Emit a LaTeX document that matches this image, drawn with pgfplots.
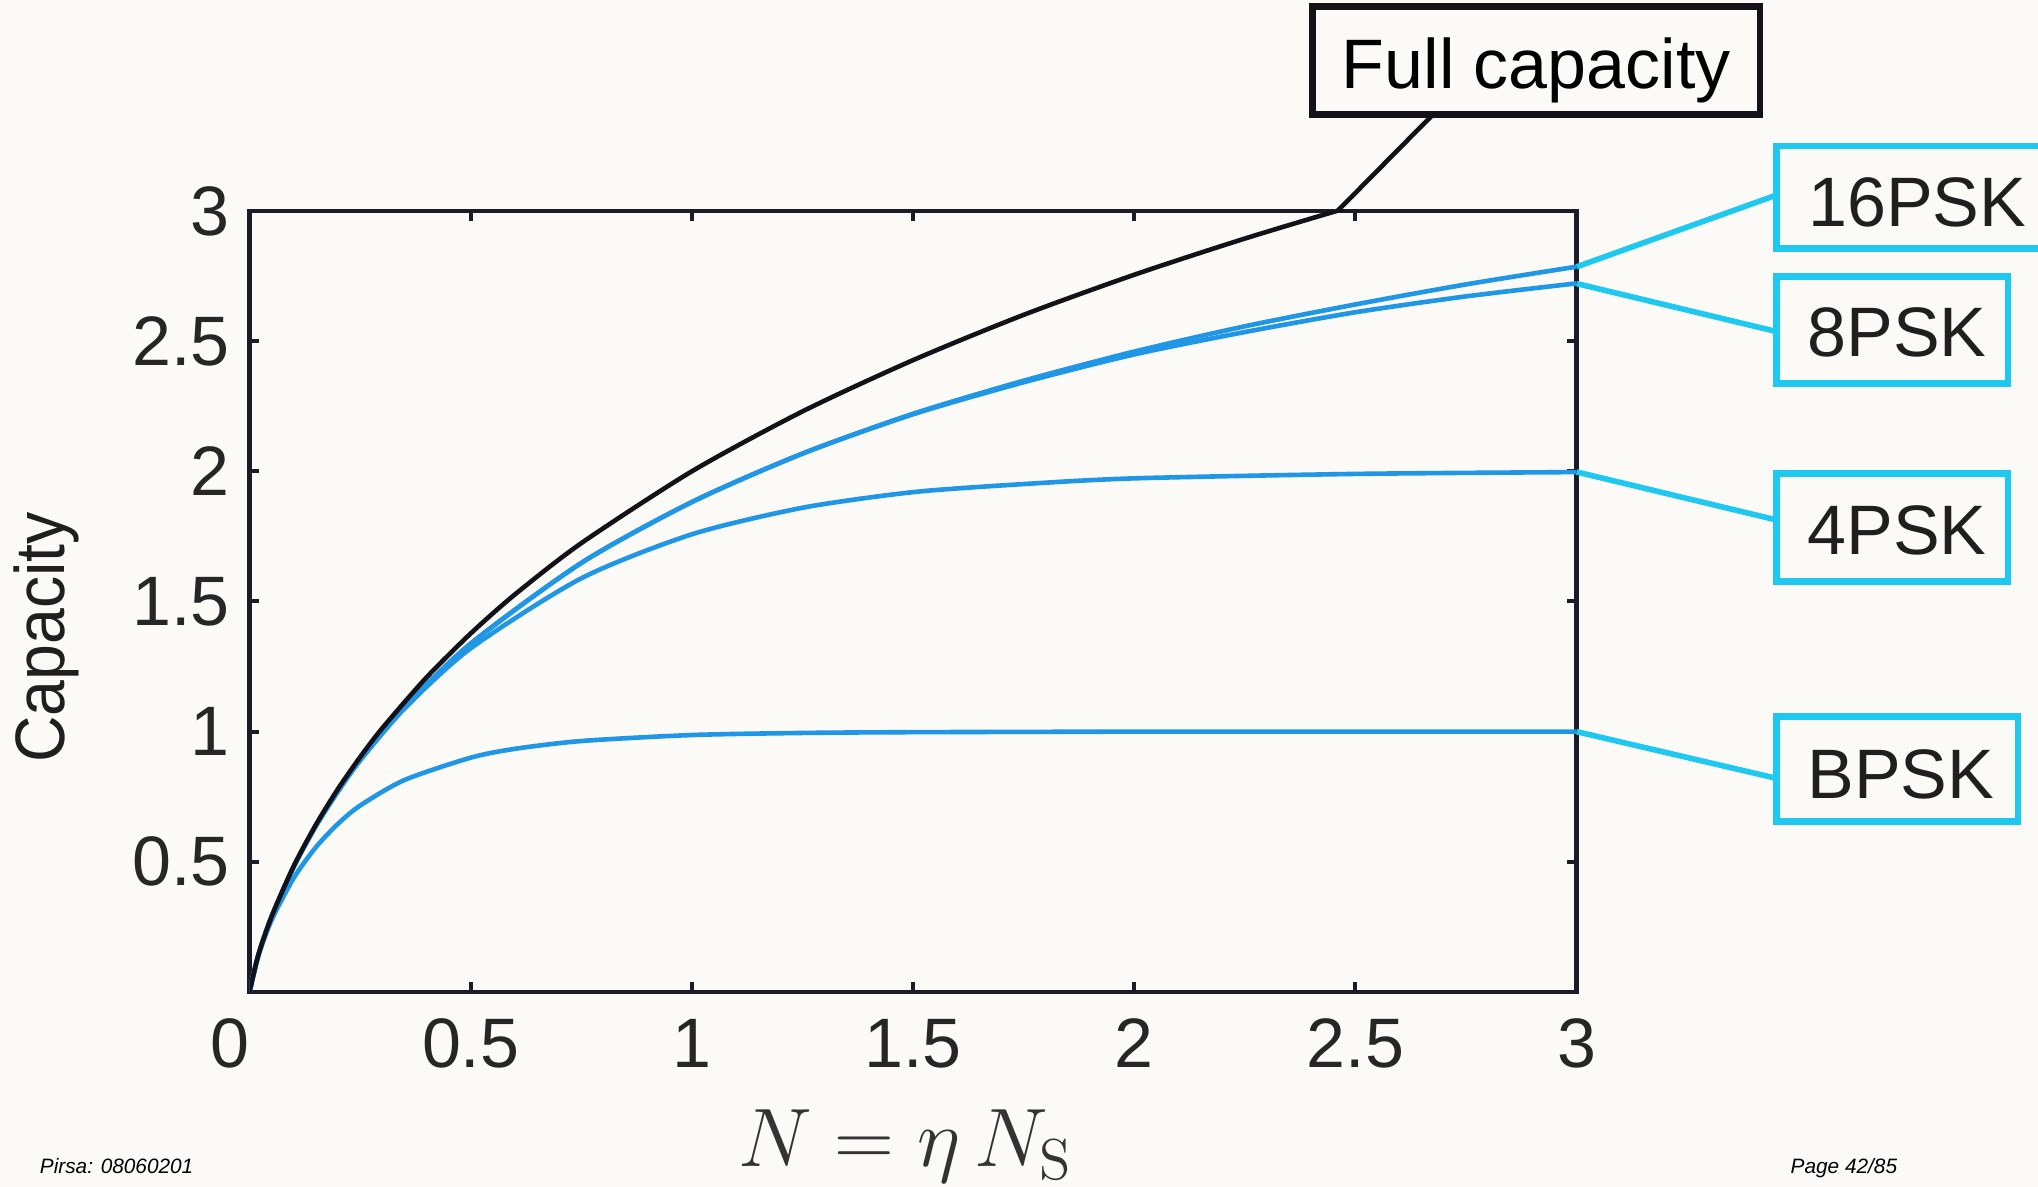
\documentclass[border=0pt]{standalone}
\usepackage[no-math]{fontspec}
\setmainfont{Liberation Sans}
\usepackage{pgfplots}
\pgfplotsset{compat=1.18}
\definecolor{bg}{RGB}{251,250,246}
\definecolor{axcol}{RGB}{28,28,40}
\definecolor{curveblue}{RGB}{32,150,230}
\definecolor{callcyan}{RGB}{30,200,238}
\definecolor{curveblack}{RGB}{18,18,24}
\newcommand{\lab}{\fontsize{17.5}{21}\selectfont}
\begin{document}
\begin{tikzpicture}
\path[use as bounding box, fill=bg] (-62.375pt,-48.75pt) rectangle (447.125pt,248pt);
\begin{axis}[
  at={(0pt,0pt)}, anchor=south west,
  scale only axis, width=331.775pt, height=195.25pt,
  xmin=0, xmax=3, ymin=0, ymax=3,
  xtick={0,0.5,1,1.5,2,2.5,3}, ytick={0.5,1,1.5,2,2.5,3},
  xticklabels={\makebox[0pt][r]{0},0.5,1,1.5,2,2.5,3},
  yticklabels={0.5,1,1.5,2,2.5,3},
  tick align=inside, major tick length=2.4pt,
  axis line style={line width=1.1pt, color=axcol},
  every tick/.style={line width=1pt, color=axcol},
  tick label style={font=\lab, text=black!85},
  xticklabel style={yshift=-3.2pt},
  yticklabel style={xshift=-1.4pt},
  axis background/.style={fill=bg},
  every axis plot/.append style={line width=1.15pt, smooth, tension=0.45},
]
\addplot[curveblue] coordinates {(0,0) (0.02,0.139) (0.05,0.276) (0.1,0.438) (0.15,0.556) (0.2,0.646) (0.25,0.716) (0.35,0.814) (0.5,0.900) (0.6,0.934) (0.75,0.964) (1,0.987) (1.25,0.995) (1.5,0.998) (2,1.000) (2.5,1.000) (3,1.000)};
\addplot[curveblue] coordinates {(0,0) (0.02,0.1419) (0.05,0.2894) (0.1,0.4813) (0.15,0.6376) (0.2,0.770) (0.25,0.889) (0.35,1.088) (0.5,1.320) (0.75,1.589) (1,1.758) (1.25,1.860) (1.5,1.920) (1.75,1.951) (2,1.973) (2.5,1.990) (3,1.997)};
\addplot[curveblue] coordinates {(0,0) (0.02,0.1419) (0.05,0.2895) (0.1,0.4814) (0.15,0.6380) (0.2,0.772) (0.25,0.891) (0.35,1.093) (0.5,1.338) (0.75,1.648) (1,1.882) (1.25,2.068) (1.5,2.219) (1.75,2.342) (2,2.449) (2.25,2.535) (2.5,2.611) (2.75,2.672) (3,2.722)};
\addplot[curveblue] coordinates {(0,0) (0.02,0.1419) (0.05,0.2895) (0.1,0.4814) (0.15,0.6380) (0.2,0.772) (0.25,0.891) (0.35,1.093) (0.5,1.338) (0.75,1.648) (1,1.882) (1.25,2.068) (1.5,2.221) (1.75,2.348) (2,2.460) (2.25,2.557) (2.5,2.641) (2.75,2.718) (3,2.786)};
\addplot[curveblack] coordinates {(0,0) (0.02,0.142) (0.05,0.290) (0.1,0.4834) (0.15,0.6424) (0.2,0.780) (0.25,0.902) (0.3,1.013) (0.4,1.208) (0.5,1.377) (0.6,1.527) (0.75,1.724) (1,2.000) (1.25,2.230) (1.5,2.427) (1.75,2.601) (2,2.755) (2.25,2.894) (2.5,3.021) (2.75,3.138) (3,3.245)};
\end{axis}
% callouts
\draw[curveblack, line width=1.15pt] (272pt,195.25pt) -- (295.9pt,219.4pt);
\draw[curveblack, line width=1.7pt] (265.8pt,219.4pt) rectangle (377.6pt,246.4pt);
\node[anchor=base, inner sep=0pt, font=\lab] at (321.7pt,225.9pt) {Full capacity};
\begin{scope}[callcyan, line width=1.4pt]
\draw (331.8pt,181.3pt) -- (381.8pt,199.25pt);
\draw (331.8pt,177.1pt) -- (381.8pt,165.1pt);
\draw (331.8pt,130.0pt) -- (381.8pt,118.0pt);
\draw (331.8pt,65.08pt) -- (381.8pt,53.4pt);
\end{scope}
\begin{scope}[callcyan, line width=1.7pt]
\draw (381.8pt,185.9pt) rectangle (470pt,211.5pt);
\draw (381.8pt,152.2pt) rectangle (439.6pt,178.8pt);
\draw (381.8pt,102.6pt) rectangle (439.6pt,129.7pt);
\draw (381.8pt,42.6pt) rectangle (442.1pt,68.8pt);
\end{scope}
\begin{scope}[every node/.style={anchor=base west, inner sep=0pt, font=\lab, text=black!88}]
\node at (389.5pt,191.4pt) {16PSK};
\node at (389.3pt,158.8pt) {8PSK};
\node at (389.3pt,109.25pt) {4PSK};
\node at (389.3pt,48.4pt) {BPSK};
\end{scope}
% axis labels
\node[rotate=90, anchor=base, inner sep=0pt, font=\lab, text=black!88] at (-46.2pt,88.6pt) {\scalebox{0.92}[1]{Capacity}};
\node[anchor=base, inner sep=0pt, text=black!80] at (164pt,-43.75pt) {\fontsize{20.74}{25}\selectfont$N = \eta\, N_{\mathrm{S}}$};
% footer
\node[anchor=base west, inner sep=0pt, font=\fontsize{5.2}{6}\selectfont\itshape] at (-52.6pt,-45.5pt) {Pirsa: 08060201};
\node[anchor=base west, inner sep=0pt, font=\fontsize{5.2}{6}\selectfont\itshape] at (385.1pt,-45.3pt) {Page 42/85};
\end{tikzpicture}
\end{document}
